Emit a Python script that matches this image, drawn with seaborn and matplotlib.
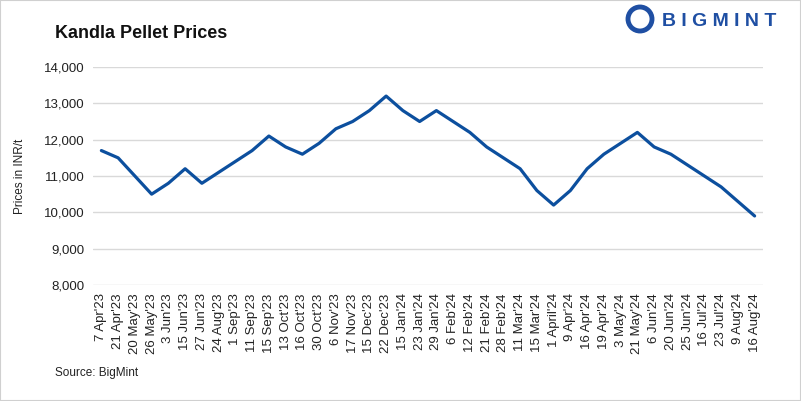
import pandas as pd
import matplotlib.pyplot as plt
import seaborn as sns
from matplotlib.patches import Rectangle, Ellipse

# Data
dates = ["7 Apr'23", "21 Apr'23", "20 May'23", "26 May'23", "3 Jun'23", "15 Jun'23",
         "27 Jun'23", "24 Aug'23", "1 Sep'23", "11 Sep'23", "15 Sep'23", "13 Oct'23",
         "16 Oct'23", "30 Oct'23", "6 Nov'23", "17 Nov'23", "15 Dec'23", "22 Dec'23",
         "15 Jan'24", "23 Jan'24", "29 Jan'24", "6 Feb'24", "12 Feb'24", "21 Feb'24",
         "28 Feb'24", "11 Mar'24", "15 Mar'24", "1 April'24", "9 Apr'24", "16 Apr'24",
         "19 Apr'24", "3 May'24", "21 May'24", "6 Jun'24", "20 Jun'24", "25 Jun'24",
         "16 Jul'24", "23 Jul'24", "9 Aug'24", "16 Aug'24"]
prices = [11700, 11500, 11000, 10500, 10800, 11200, 10800, 11100, 11400, 11700,
          12100, 11800, 11600, 11900, 12300, 12500, 12800, 13200, 12800, 12500,
          12800, 12500, 12200, 11800, 11500, 11200, 10600, 10200, 10600, 11200,
          11600, 11900, 12200, 11800, 11600, 11300, 11000, 10700, 10300, 9900]
y_ticks = [8000, 9000, 10000, 11000, 12000, 13000, 14000]

df = pd.DataFrame({'Date': dates, 'Price': prices})
df['pos'] = range(len(df))

sns.set_style('white')
plt.rcParams['font.family'] = ['Liberation Sans', 'DejaVu Sans']

fig = plt.figure(figsize=(8.01, 4.01), dpi=100)
ax = fig.add_axes([93 / 801, 1 - 285 / 401, 670 / 801, 218 / 401])

sns.lineplot(data=df, x='pos', y='Price', color='#0C4F9E', linewidth=2.3, ax=ax)

ax.set_xlim(-0.5, len(df) - 0.5)
ax.set_ylim(8000, 14000)
ax.set_yticks(y_ticks)
ax.set_yticklabels([f'{v:,}' for v in y_ticks], fontsize=9.5, color='#222222')
ax.set_xticks(df['pos'])
ax.set_xticklabels(df['Date'], rotation=90, fontsize=9.5, color='#222222')
ax.tick_params(axis='both', length=0, pad=6)
ax.set_xlabel('')
ax.set_ylabel('Prices in INR/t', fontsize=8.5, color='#222222', labelpad=13)
ax.yaxis.grid(True, color='#d9d9d9', linewidth=1)
ax.set_axisbelow(True)
for s in ax.spines.values():
    s.set_visible(False)

# Title, source and logo
fig.text(55 / 801, 1 - 33 / 401, 'Kandla Pellet Prices', fontsize=13, fontweight='bold',
         va='center', ha='left', color='#111111')
fig.text(55 / 801, 1 - 373 / 401, 'Source: BigMint', fontsize=8.5, va='center', color='#222222')
fig.text(662 / 801, 1 - 21 / 401, 'B I G M I N T', fontsize=14, fontweight='bold',
         color='#1F4FA3', va='center', ha='left')
fig.patches.append(Ellipse((640 / 801, 1 - 19 / 401), 24 / 801, 24 / 401,
                           transform=fig.transFigure, facecolor='white',
                           edgecolor='#1F4FA3', linewidth=3.5))

# Light border round the picture
fig.patches.append(Rectangle((0, 0), 1, 1, transform=fig.transFigure, fill=False,
                             edgecolor='#d0d0d0', linewidth=1.5))

plt.savefig('out.png', dpi=100)
